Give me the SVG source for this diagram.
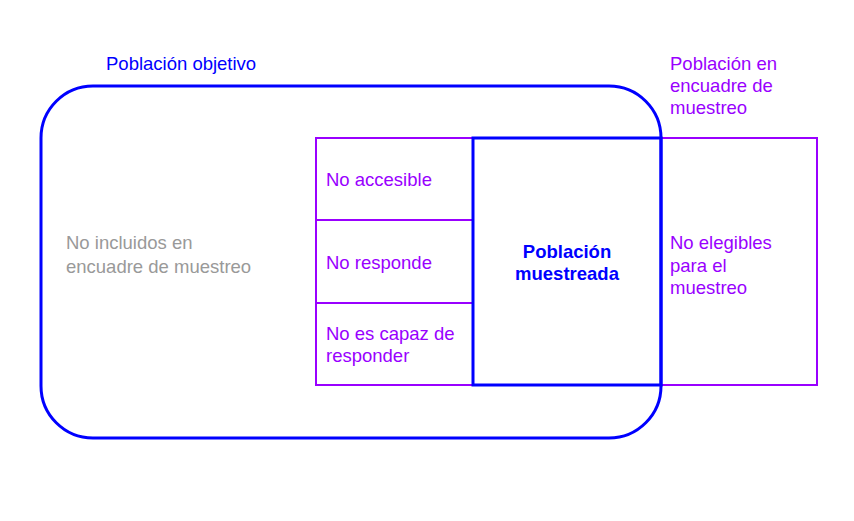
<svg xmlns="http://www.w3.org/2000/svg" width="854" height="521" viewBox="0 0 854 521">
<style>
text{font-family:"Liberation Sans",Arial,sans-serif;font-size:18.5px}
.blue{fill:#0000ff}
.purple{fill:#9900ff}
.gray{fill:#999999}
.bold{font-weight:bold}
.pbox{fill:none;stroke:#9900ff;stroke-width:2}
.bbox{fill:none;stroke:#0000ff;stroke-width:3}
</style>
<rect width="854" height="521" fill="#ffffff"/>
<g id="frame">
<rect class="pbox" x="316" y="138" width="501" height="247"/>
<text class="purple" x="670" y="70">Población en</text>
<text class="purple" x="670" y="92">encuadre de</text>
<text class="purple" x="670" y="114">muestreo</text>
</g>
<g id="no-accesible">
<rect class="pbox" x="316" y="138" width="157" height="82"/>
<text class="purple" x="326" y="186">No accesible</text>
</g>
<g id="no-responde">
<rect class="pbox" x="316" y="220" width="157" height="83"/>
<text class="purple" x="326" y="269">No responde</text>
</g>
<g id="no-capaz">
<rect class="pbox" x="316" y="303" width="157" height="82"/>
<text class="purple" x="326" y="340">No es capaz de</text>
<text class="purple" x="326" y="362">responder</text>
</g>
<g id="no-elegibles">
<text class="purple" x="670" y="249">No elegibles</text>
<text class="purple" x="670" y="272">para el</text>
<text class="purple" x="670" y="294">muestreo</text>
</g>
<g id="objetivo">
<rect class="bbox" x="41" y="86" width="620" height="352" rx="52" ry="52"/>
<text class="blue" x="106" y="70">Población objetivo</text>
<text class="gray" x="66" y="249">No incluidos en</text>
<text class="gray" x="66" y="273">encuadre de muestreo</text>
</g>
<g id="muestreada">
<rect class="bbox" x="473" y="138" width="188" height="247"/>
<text class="blue bold" x="567" y="258" text-anchor="middle">Población</text>
<text class="blue bold" x="567" y="280" text-anchor="middle">muestreada</text>
</g>
<g id="connectors"/>
</svg>
